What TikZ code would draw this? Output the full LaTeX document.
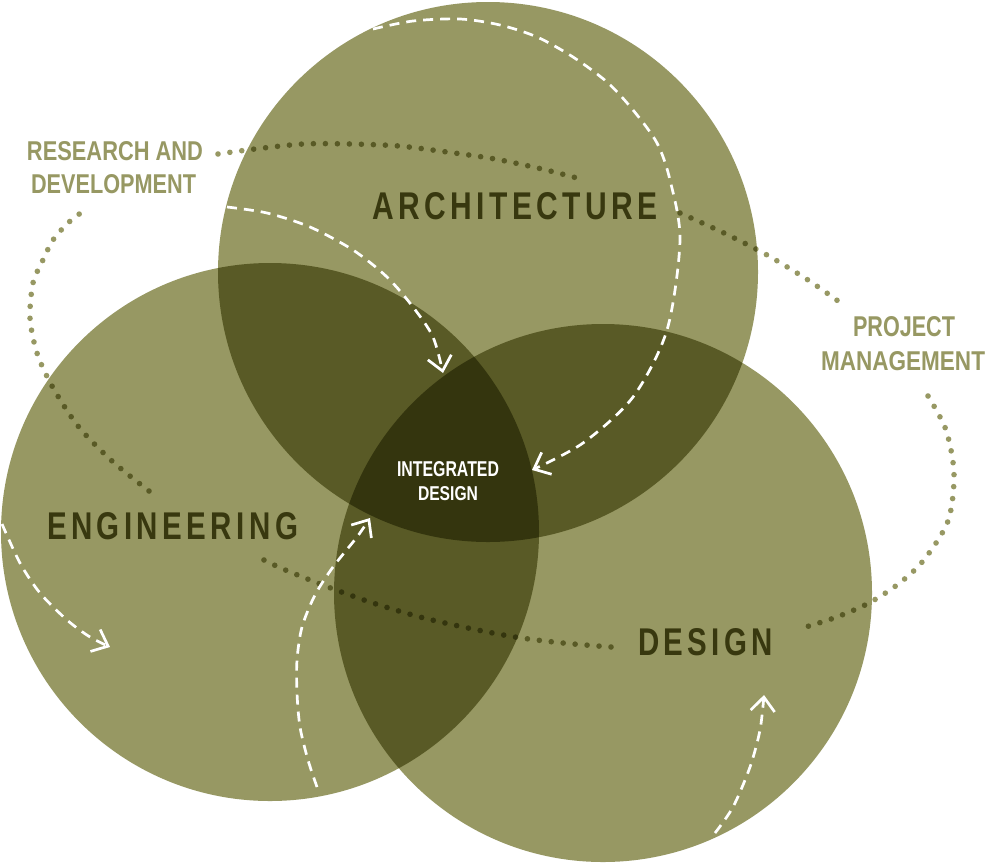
\documentclass[tikz,border=0pt]{standalone}
\usepackage{fontspec}
\usepackage{graphicx}
\setmainfont{Liberation Sans}
\usetikzlibrary{arrows.meta}
\definecolor{circ}{HTML}{979863}
\definecolor{darkt}{HTML}{38380F}
\newlength\trkamt
\def\trk#1{\trkA#1\relax\unkern}
\def\trkA#1{\ifx#1\relax\else#1\kern\trkamt\expandafter\trkA\fi}
\newcommand\mainlab[3]{\resizebox{#1}{#2}{\bfseries\setlength\trkamt{0.15em}\trk{#3}}}
\newcommand\sidelab[3]{\resizebox{#1}{#2}{\bfseries #3}}
\begin{document}
\begin{tikzpicture}[x=1pt,y=-1pt,
  dots/.style={circ, line width=5.6pt, line cap=round, dash pattern=on 0pt off 12pt},
  wdash/.style={white, line width=2.7pt, dash pattern=on 10pt off 7pt,
    -{Straight Barb[length=14pt,width=24pt]}},
  lab/.style={inner sep=0pt, outer sep=0pt, anchor=south west},
  mainl/.style={lab, text=darkt},
  sidel/.style={lab, text=circ},
  whitel/.style={lab, text=white}]
\fill[white] (0,0) rectangle (992,865);
\useasboundingbox (0,0) rectangle (992,865);

% coordinates of connector ends
\coordinate (a0) at (218,154); \coordinate (a1) at (577,178);
\coordinate (b0) at (680,213); \coordinate (b1) at (838,301);
\coordinate (c0) at (928,396); \coordinate (c1) at (799,629);
\coordinate (d0) at (611,647); \coordinate (d1) at (262,559);
\coordinate (e0) at (149,491); \coordinate (e1) at (82,212);

\begin{scope}[blend group=multiply]
  \fill[circ] (488,272) circle[radius=270pt];
  \fill[circ] (270,532) circle[radius=269pt];
  \fill[circ] (603,593) circle[radius=269pt];
  \draw[dots] plot[smooth] coordinates {(a0) (255,149) (303,144) (351,144) (399,146) (447,152) (495,159) (542,169) (a1)};
  \draw[dots] plot[smooth] coordinates {(b0) (724,233) (767,255) (808,280) (b1)};
  \draw[dots] plot[smooth] coordinates {(c0) (946,430) (954,474) (948,521) (923,561) (897,585) (867,604) (834,618) (c1)};
  \draw[dots] plot[smooth] coordinates {(d0) (563,643) (515,637) (468,628) (420,617) (373,603) (328,587) (283,569) (d1)};
  \draw[dots] plot[smooth] coordinates {(e0) (112,461) (78,426) (52,386) (37,353) (30,318) (33,283) (42,262) (53,240) (68,223) (e1)};
\end{scope}

% white dashed arrows
\coordinate (p0) at (373,29); \coordinate (p1) at (532,470);
\coordinate (q0) at (227,207); \coordinate (q1) at (443,373);
\coordinate (r0) at (2,524); \coordinate (r1) at (110,647);
\coordinate (s0) at (317,787); \coordinate (s1) at (370,518);
\coordinate (t0) at (715,833); \coordinate (t1) at (764,695);
\draw[wdash] plot[smooth] coordinates {(p0) (413,21) (460,19) (500,25) (537,37) (573,57) (607,82) (633,110) (657,143) (670,180) (680,240) (667,330) (633,397) (583,443) (p1)};
\draw[wdash] plot[smooth] coordinates {(q0) (267,213) (310,227) (353,250) (387,277) (413,307) (433,337) (q1)};
\draw[wdash] plot[smooth] coordinates {(r0) (20,563) (40,593) (67,620) (90,637) (r1)};
\draw[wdash] plot[smooth] coordinates {(s0) (308,760) (300,727) (297,693) (297,660) (302,627) (315,595) (333,567) (357,537) (s1)};
\draw[wdash] plot[smooth] coordinates {(t0) (733,807) (750,767) (760,730) (t1)};

% labels
\node[mainl] (arch) at (372,220) {\mainlab{286pt}{27pt}{ARCHITECTURE}};
\node[mainl] (eng) at (47,540) {\mainlab{251pt}{27pt}{ENGINEERING}};
\node[mainl] (des) at (638,656) {\mainlab{135pt}{27pt}{DESIGN}};
\node[whitel] (int1) at (397,477) {\sidelab{102pt}{15pt}{INTEGRATED}};
\node[whitel] (int2) at (418,501) {\sidelab{60pt}{14pt}{DESIGN}};
\node[sidel] (rd1) at (27,161) {\sidelab{176pt}{19pt}{RESEARCH AND}};
\node[sidel] (rd2) at (31,194) {\sidelab{165pt}{19pt}{DEVELOPMENT}};
\node[sidel] (pm1) at (853,337) {\sidelab{102pt}{20pt}{PROJECT}};
\node[sidel] (pm2) at (821,371) {\sidelab{164pt}{19pt}{MANAGEMENT}};
\end{tikzpicture}
\end{document}
